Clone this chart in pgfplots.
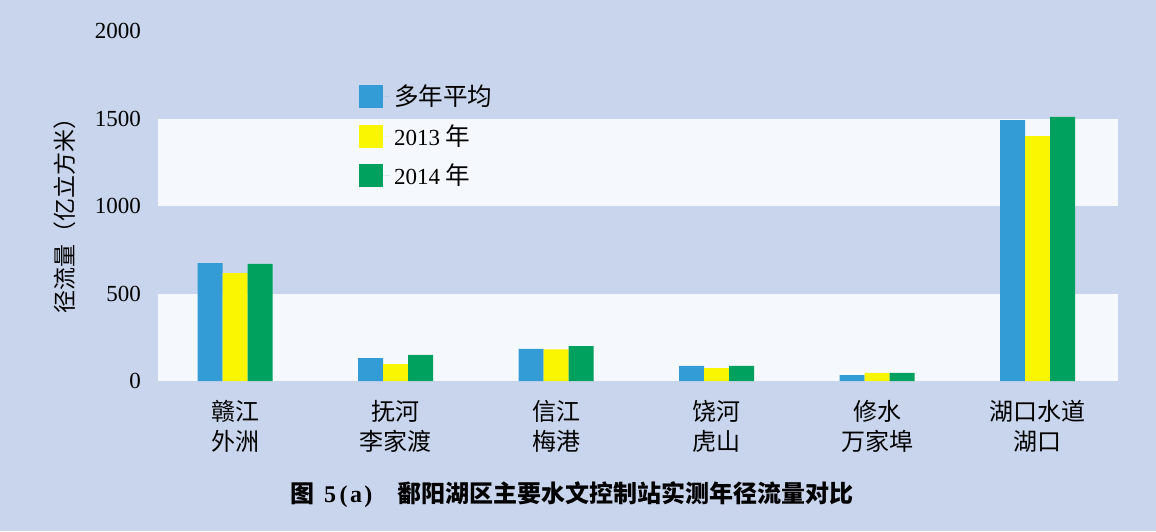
\documentclass[border=0pt]{standalone}
\usepackage{pgfplots}
\pgfplotsset{compat=1.18}
\usepackage{fontspec}
\setmainfont{Liberation Serif}
\newfontfamily\cjk{Noto Sans CJK SC}
\definecolor{bg}{RGB}{201,213,236}
\definecolor{band}{RGB}{245,248,253}
\definecolor{cblue}{RGB}{51,156,214}
\definecolor{cyellow}{RGB}{250,245,0}
\definecolor{cgreen}{RGB}{0,160,95}
\begin{document}
\begin{tikzpicture}
\fill[bg] (-79pt,-75pt) rectangle (499pt,190.5pt);
\begin{axis}[
  at={(0,0)}, anchor=south west,
  width=480pt, height=175pt, scale only axis,
  xmin=-0.48, xmax=5.5, ymin=0, ymax=2000,
  ybar=0pt, bar width=12.5pt,
  axis line style={draw=none},
  major tick length=0pt,
  tick style={draw=none},
  xtick={0,1,2,3,4,5},
  xticklabels={{赣江\\外洲},{抚河\\李家渡},{信江\\梅港},{饶河\\虎山},{修水\\万家埠},{湖口水道\\湖口}},
  xticklabel style={font=\cjk\fontsize{12}{15}\selectfont, align=center, yshift=-6pt},
  ytick={0,500,1000,1500,2000},
  yticklabel style={font=\fontsize{11.5}{14}\selectfont, anchor=east, xshift=-5pt},
  /pgf/number format/assume math mode=true,
  /pgf/number format/1000 sep={},
  ylabel={\cjk 径流量（亿立方米）},
  every axis y label/.style={at={(rel axis cs:-0.097,0.49)}, rotate=90, anchor=center, font=\fontsize{11.5}{14}\selectfont},
  legend style={draw=none, fill=none, at={(rel axis cs:0.209,0.858)}, anchor=north west,
    font=\fontsize{11.5}{14}\selectfont, row sep=3.75pt, legend cell align=left, inner sep=0pt},
  legend cell align=left,
]
\fill[band] (axis cs:-0.48,0) rectangle (axis cs:5.5,500);
\fill[band] (axis cs:-0.48,1000) rectangle (axis cs:5.5,1500);
\addplot[fill=cblue, draw=none, legend image code/.code={\fill[cblue] (0pt,-5.75pt) rectangle (12pt,5.75pt); \path (0pt,0pt) -- (15.5pt,0pt);}]
  coordinates {(0,674) (1,131) (2,183) (3,86) (4,34) (5,1491)};
\addplot[fill=cyellow, draw=none, legend image code/.code={\fill[cyellow] (0pt,-5.75pt) rectangle (12pt,5.75pt); \path (0pt,0pt) -- (15.5pt,0pt);}]
  coordinates {(0,617) (1,97) (2,181) (3,74) (4,46) (5,1400)};
\addplot[fill=cgreen, draw=none, legend image code/.code={\fill[cgreen] (0pt,-5.75pt) rectangle (12pt,5.75pt); \path (0pt,0pt) -- (15.5pt,0pt);}]
  coordinates {(0,669) (1,149) (2,200) (3,86) (4,46) (5,1509)};
\legend{{\cjk\fontsize{12.3}{14}\selectfont 多年平均},{2013 {\cjk\fontsize{12.3}{14}\selectfont 年}},{2014 {\cjk\fontsize{12.3}{14}\selectfont 年}}}
\end{axis}
\node at (207pt,-57pt) {\bfseries\fontsize{12}{15}\selectfont\cjk 图\hspace{0.4em}{\rmfamily 5\hspace{0.15em}(\hspace{0.1em}a\hspace{0.1em})}\hspace{1.05em}鄱阳湖区主要水文控制站实测年径流量对比};
\end{tikzpicture}
\end{document}
